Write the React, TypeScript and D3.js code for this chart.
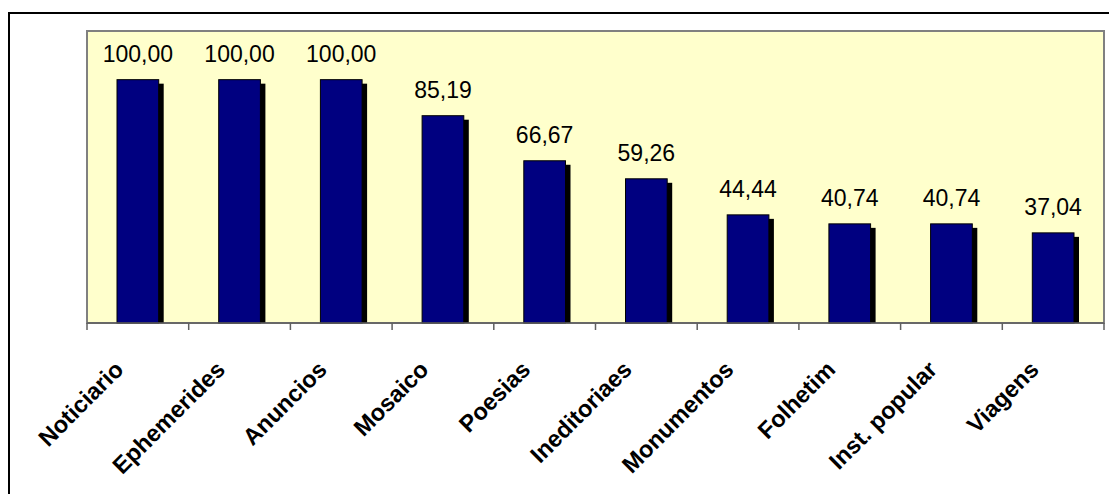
import React from "react";
import * as d3 from "d3";

const categories = [
  "Noticiario",
  "Ephemerides",
  "Anuncios",
  "Mosaico",
  "Poesias",
  "Ineditoriaes",
  "Monumentos",
  "Folhetim",
  "Inst. popular",
  "Viagens",
];
const values = [100.0, 100.0, 100.0, 85.19, 66.67, 59.26, 44.44, 40.74, 40.74, 37.04];
const yDomain = [0, 120];

const W = 1109;
const H = 494;
const plot = { left: 87, right: 1104, top: 31, bottom: 323 };

const fmt = (v: number) => v.toFixed(2).replace(".", ",");

export default function App() {
  const x = d3
    .scaleBand<string>()
    .domain(categories)
    .range([plot.left, plot.right])
    .paddingInner(0.59)
    .paddingOuter(0.295);
  const xc = d3.scaleBand<string>().domain(categories).range([plot.left, plot.right]);
  const y = d3.scaleLinear().domain(yDomain).range([plot.bottom, plot.top]);

  const bw = x.bandwidth();
  const tickXs = [...categories.map((c) => xc(c) as number), plot.right];

  return (
    <svg
      width={W}
      height={H}
      style={{ position: "absolute", left: 0, top: 0, background: "#fff" }}
      fontFamily="Arial, 'Liberation Sans', sans-serif"
    >
      {/* chart frame */}
      <rect x={9} y={13} width={W + 10} height={H + 10} fill="#fff" stroke="#000" strokeWidth={2} />
      {/* plot area */}
      <rect
        x={plot.left}
        y={plot.top}
        width={plot.right - plot.left}
        height={plot.bottom - plot.top}
        fill="#FFFFCC"
        stroke="#808080"
        strokeWidth={2}
      />
      {/* bars with drop shadow */}
      {categories.map((c, i) => {
        const bx = x(c) as number;
        const by = y(values[i]);
        const bh = plot.bottom - by;
        return (
          <g key={c}>
            <rect x={bx + 5} y={by + 4} width={bw} height={bh - 4} fill="#000" />
            <rect x={bx} y={by} width={bw} height={bh} fill="#000080" stroke="#000" strokeWidth={1} />
            <text
              x={bx + bw / 2}
              y={by - 18}
              textAnchor="middle"
              fontSize={23}
              fill="#000"
            >
              {fmt(values[i])}
            </text>
          </g>
        );
      })}
      {/* category axis */}
      <line x1={plot.left} x2={plot.right} y1={plot.bottom} y2={plot.bottom} stroke="#606060" strokeWidth={1.5} />
      {tickXs.map((t, i) => (
        <line key={i} x1={t} x2={t} y1={plot.bottom} y2={plot.bottom + 7} stroke="#606060" strokeWidth={1.5} />
      ))}
      {categories.map((c) => {
        const cx = (xc(c) as number) + xc.bandwidth() / 2;
        const tx = cx - 13;
        const ty = 371;
        return (
          <text
            key={c}
            x={tx}
            y={ty}
            transform={`rotate(-45 ${tx} ${ty})`}
            textAnchor="end"
            fontSize={23.5}
            fontWeight="bold"
            fill="#000"
          >
            {c}
          </text>
        );
      })}
    </svg>
  );
}
